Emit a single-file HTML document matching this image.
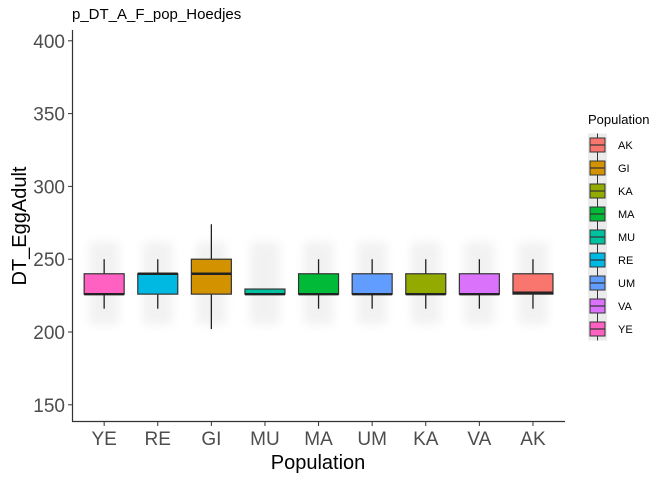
<!DOCTYPE html>
<html><head><meta charset="utf-8"><style>
body{margin:0;background:#fff;}
svg text{font-family:"Liberation Sans",sans-serif;}
</style></head><body>
<svg id="chart" width="672" height="480" xmlns="http://www.w3.org/2000/svg">
<defs><filter id="blur" x="-50%" y="-50%" width="200%" height="200%"><feGaussianBlur stdDeviation="5"/></filter></defs>
<text x="72" y="19" font-size="15" fill="#000">p_DT_A_F_pop_Hoedjes</text>
<g id="haze"></g>
<g id="boxes"></g>
<line x1="72.5" y1="30" x2="72.5" y2="422" stroke="#333" stroke-width="1.2"/>
<line x1="72" y1="421.5" x2="565" y2="421.5" stroke="#333" stroke-width="1.2"/>
<g id="yticks"></g><g id="xticks"></g>
<text x="318" y="469" font-size="20" text-anchor="middle" fill="#000">Population</text>
<text transform="translate(26,226) rotate(-90)" font-size="20" text-anchor="middle" fill="#000">DT_EggAdult</text>
<g id="legend">
<text x="588" y="124" font-size="13" fill="#000">Population</text>
</g>
</svg>
<script>
const categories=["YE","RE","GI","MU","MA","UM","KA","VA","AK"];
const colors=["#FF61C3","#00B9E3","#D39200","#00C19F","#00BA38","#619CFF","#93AA00","#DB72FB","#F8766D"];
const q1=[226,226,226,226,226,226,226,226,226];
const medians=[226,240,240,226,226,226,226,226,227];
const q3=[240,240,250,229.5,240,240,240,240,240];
const whiskLo=[216,216,202,226,216,216,216,216,216];
const whiskHi=[250,250,274,229.5,250,250,250,250,250];
const yTicks=[150,200,250,300,350,400];
const legendOrder=["AK","GI","KA","MA","MU","RE","UM","VA","YE"];
const NS="http://www.w3.org/2000/svg";
const y=v=>332-(v-200)*1.456;
const x=i=>72+(i+0.6)*53.6;
function mk(t,a,p){const e=document.createElementNS(NS,t);for(const k in a)e.setAttribute(k,a[k]);p.appendChild(e);return e;}
const haze=document.getElementById('haze'),boxes=document.getElementById('boxes');
categories.forEach((c,i)=>{
 const cx=x(i);
 const h=mk('rect',{x:cx-15,y:y(262),width:30,height:y(205)-y(262),fill:'#000',opacity:0.05,filter:'url(#blur)'},haze);
 
 
 const g=mk('g',{},boxes);
 
 
 mk('line',{x1:cx,x2:cx,y1:y(whiskHi[i]),y2:y(whiskLo[i]),stroke:'#222','stroke-width':1.3},g);
 mk('rect',{x:cx-20,y:y(q3[i]),width:40,height:Math.max(y(q1[i])-y(q3[i]),2),fill:colors[i],stroke:'#333','stroke-width':1.2},g);
 mk('line',{x1:cx-20,x2:cx+20,y1:y(medians[i]),y2:y(medians[i]),stroke:'#222','stroke-width':2.4},g);
 const t=mk('text',{x:cx,y:445,'font-size':19,'text-anchor':'middle',fill:'#4d4d4d'},document.getElementById('xticks'));
 t.textContent=c;
 
 
 mk('line',{x1:cx,x2:cx,y1:422,y2:426,stroke:'#333'},document.getElementById('xticks'));
});
const yt=document.getElementById('yticks');
yTicks.forEach(v=>{
 mk('line',{x1:68,x2:72,y1:y(v),y2:y(v),stroke:'#333'},yt);
 const t=mk('text',{x:65,y:y(v)+7,'font-size':19,'text-anchor':'end',fill:'#4d4d4d'},yt);
 t.textContent=v;
 
 
});
const lg=document.getElementById('legend');
legendOrder.forEach((c,j)=>{
 const col=colors[categories.indexOf(c)];
 const cy=145+j*23;
 const g=mk('g',{},lg);
 
 
 mk('rect',{x:588,y:cy-11.5,width:19,height:23,fill:'#ebebeb'},g);
 mk('line',{x1:597.5,x2:597.5,y1:cy-11.5,y2:cy+11.5,stroke:'#333'},g);
 mk('rect',{x:590,y:cy-7,width:15,height:14,fill:col,stroke:'#333','stroke-width':1},g);
 mk('line',{x1:590,x2:605,y1:cy,y2:cy,stroke:'#333','stroke-width':1.2},g);
 const t=mk('text',{x:618,y:cy+4,'font-size':11,fill:'#000'},g);
 t.textContent=c;
});
</script>
</body></html>
